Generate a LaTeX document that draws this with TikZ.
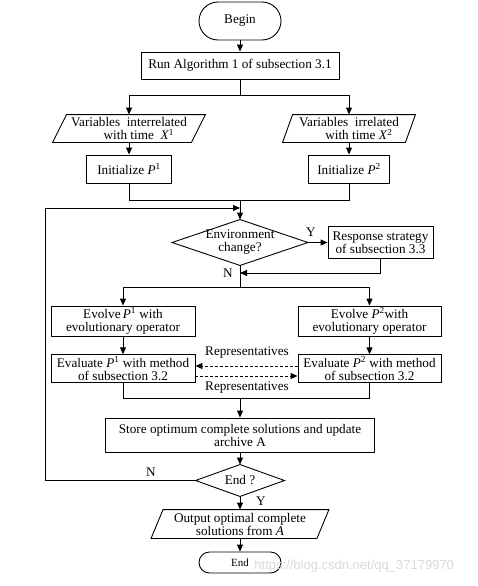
\documentclass[tikz,border=0pt]{standalone}
\usepackage{fontspec}
\setmainfont{Liberation Serif}
\newfontfamily\wmfont{Liberation Sans}
\usetikzlibrary{arrows.meta,calc}
\begin{document}
\begin{tikzpicture}[x=1pt,y=-1pt, line width=0.9pt,
  font=\fontsize{13.2}{13}\selectfont,
  box/.style={draw, rectangle, inner sep=0pt, align=center},
  ghost/.style={rectangle, inner sep=0pt, align=center},
  arr/.style={-{Triangle[length=7pt,width=6pt]}},
  dasharr/.style={dashed, dash pattern=on 3pt off 2pt, -{Triangle[length=7pt,width=6pt]}},
  lbl/.style={inner sep=1pt}]
\useasboundingbox (0,0) rectangle (477,586);

% nodes
\node[box, rounded corners=19pt, minimum width=82, minimum height=38] (begin) at (240,21) {Begin};
\node[box, minimum width=198, minimum height=27] (run) at (240,65.5) {Run Algorithm 1 of subsection 3.1};
\node[ghost, minimum width=152, minimum height=27] (v1) at (129,128.5) {Variables\ \ interrelated\\\hspace*{1.5em}with time\ \ \textit{X}\textsuperscript{1}};
\node[ghost, minimum width=132, minimum height=27] (v2) at (349,128.5) {Variables\ \ irrelated\\\hspace*{1.5em}with time \textit{X}\textsuperscript{2}};
\node[box, minimum width=85, minimum height=28] (i1) at (129,169) {Initialize \textit{P}\textsuperscript{1}};
\node[box, minimum width=81, minimum height=28] (i2) at (349,169) {Initialize \textit{P}\textsuperscript{2}};
\node[ghost, minimum width=135, minimum height=45] (env) at (240,242.5) {Environment\\change?};
\node[box, minimum width=105, minimum height=32] (resp) at (380.5,242.5) {Response strategy\\of subsection 3.3};
\node[box, minimum width=144, minimum height=30] (e1) at (123,321) {Evolve\,\textit{P}\textsuperscript{1} with\\evolutionary operator};
\node[box, minimum width=143, minimum height=30] (e2) at (369.5,321) {Evolve \textit{P}\textsuperscript{2}with\\evolutionary operator};
\node[box, minimum width=144, minimum height=27.5] (ev1) at (123,368.5) {Evaluate \textit{P}\textsuperscript{1} with method\\of subsection 3.2};
\node[box, minimum width=143, minimum height=27.5] (ev2) at (369.5,368.5) {Evaluate \textit{P}\textsuperscript{2} with method\\of subsection 3.2};
\node[box, minimum width=269, minimum height=34] (store) at (240,435) {Store optimum complete solutions and update\\archive A};
\node[ghost, minimum width=88, minimum height=31] (endq) at (240,480.5) {End ?};
\node[ghost, minimum width=177, minimum height=28] (out) at (240,524) {Output optimal complete\\solutions from \textit{A}};
\node[box, rounded corners=10.5pt, minimum width=82, minimum height=21, font=\fontsize{11}{11}\selectfont] (end) at (240,562.5) {End};

% shapes drawn around ghost nodes
\draw ([xshift=14pt]v1.north west) -- (v1.north east) -- ([xshift=-14pt]v1.south east) -- (v1.south west) -- cycle;
\draw ([xshift=10pt]v2.north west) -- (v2.north east) -- ([xshift=-10pt]v2.south east) -- (v2.south west) -- cycle;
\draw ([xshift=12pt]out.north west) -- (out.north east) -- ([xshift=-12pt]out.south east) -- (out.south west) -- cycle;
\draw (env.north) -- (env.east) -- (env.south) -- (env.west) -- cycle;
\draw (endq.north) -- (endq.east) -- (endq.south) -- (endq.west) -- cycle;

% connectors
\draw[arr] (begin.south) -- (run.north);
\coordinate (s1) at (240,95);
\draw (run.south) -- (s1);
\draw[arr] (s1) -| (v1.north);
\draw[arr] (s1) -| (v2.north);
\draw[arr] (v1.south) -- (i1.north);
\draw[arr] (v2.south) -- (i2.north);
\coordinate (m1) at (240,200);
\draw (i1.south) |- (m1);
\draw (i2.south) |- (m1);
\draw[arr] (m1) -- (env.north);
\coordinate (j1) at (240,208);
\coordinate (lc) at (45,208);
\draw[arr] (endq.west) -| (lc) -- (j1);
\draw[arr] (env.east) -- (resp.west);
\coordinate (j2) at (240,273);
\draw[arr] (resp.south) |- (j2);
\coordinate (s2) at (240,287);
\draw (env.south) -- (s2);
\draw[arr] (s2) -| (e1.north);
\draw[arr] (s2) -| (e2.north);
\draw[arr] (e1.south) -- (ev1.north);
\draw[arr] (e2.south) -- (ev2.north);
\draw[dasharr] ([yshift=2.5pt]ev2.west) -- ([yshift=2.5pt]ev1.east);
\draw[dasharr] ([yshift=-7.5pt]ev1.east) -- ([yshift=-7.5pt]ev2.west);
\coordinate (m2) at (240,398);
\draw (ev1.south) |- (m2);
\draw (ev2.south) |- (m2);
\draw[arr] (m2) -- (store.north);
\draw[arr] (store.south) -- (endq.north);
\draw[arr] (endq.south) -- (out.north);
\draw[arr] (out.south) -- (end.north);

% labels
\node[lbl] (ly1) at (311,232) {Y};
\node[lbl] (ln1) at (228,273) {N};
\node[lbl] (lr1) at (247,353) {Representatives};
\node[lbl] (lr2) at (247,388) {Representatives};
\node[lbl] (ln2) at (151,472) {N};
\node[lbl] (ly2) at (261,501) {Y};

% watermark
\node[lbl, anchor=west, text=black!15, font=\wmfont\fontsize{13}{13}\selectfont] (wm) at (253,566) {https://blog.csdn.net/qq\_37179970};
\end{tikzpicture}
\end{document}
